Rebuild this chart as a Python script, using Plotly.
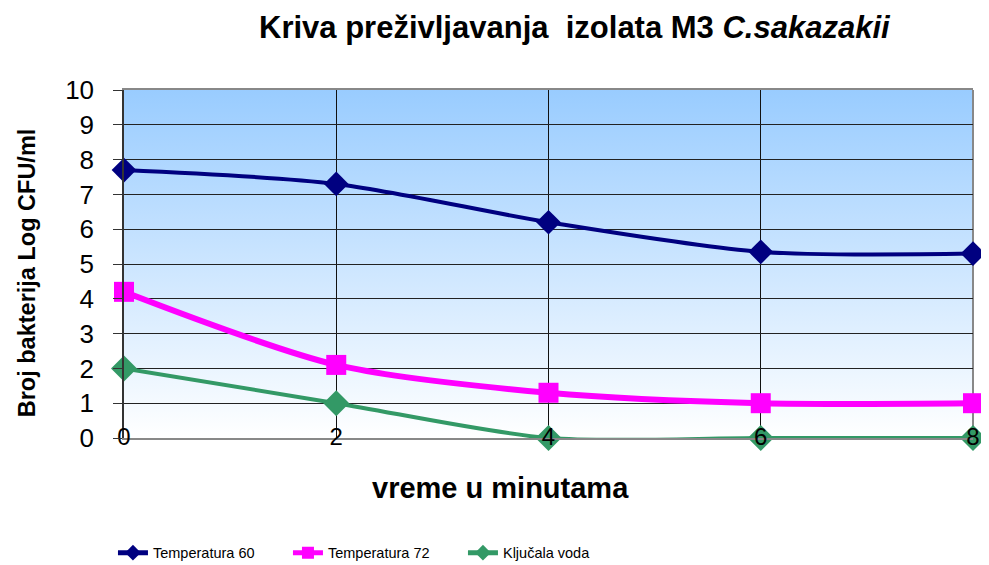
import base64
import plotly.graph_objects as go

# datos
vreme = [0, 2, 4, 6, 8]
temp_60 = [7.7, 7.3, 6.2, 5.35, 5.3]
temp_72 = [4.2, 2.1, 1.3, 1.0, 1.0]
kljucala_voda = [2.0, 1.0, 0.0, 0.0, 0.0]

naslov = "Kriva preživljavanja  izolata M3 <i>C.sakazakii</i>"
naslov_x = "vreme u minutama"
naslov_y = "Broj bakterija Log CFU/ml"

FONT = "Liberation Sans, Arial, sans-serif"

# fondo degradado (azul arriba, blanco abajo) como imagen SVG
svg = (
    '<svg xmlns="http://www.w3.org/2000/svg" width="10" height="100" preserveAspectRatio="none">'
    '<defs><linearGradient id="g" x1="0" y1="0" x2="0" y2="1">'
    '<stop offset="0" stop-color="#99CCFF"/><stop offset="1" stop-color="#FFFFFF"/>'
    '</linearGradient></defs><rect width="10" height="100" fill="url(#g)"/></svg>'
)
fondo = "data:image/svg+xml;base64," + base64.b64encode(svg.encode()).decode()

fig = go.Figure()

series = [
    ("Temperatura 60", temp_60, "#000080", 4, "diamond", 19),
    ("Temperatura 72", temp_72, "#FF00FF", 6, "square", 20),
    ("Ključala voda", kljucala_voda, "#339966", 4, "diamond", 20),
]
for nombre, valores, color, ancho, simbolo, tam in series:
    fig.add_trace(go.Scatter(
        x=vreme, y=valores, name=nombre, mode="lines+markers",
        line=dict(color=color, width=ancho, shape="spline", smoothing=0.8),
        marker=dict(symbol=simbolo, size=tam, color=color),
        cliponaxis=False,
    ))

# la página tiene 8 px de margen en el body: figura algo más pequeña
fig.update_layout(
    width=981, height=557,
    margin=dict(l=116, r=16, t=82, b=127, autoexpand=False),
    paper_bgcolor="white",
    plot_bgcolor="rgba(0,0,0,0)",
    font=dict(family=FONT, color="black"),
    images=[dict(source=fondo, xref="paper", yref="paper", x=0, y=1,
                 sizex=1, sizey=1, sizing="stretch", layer="below")],
    xaxis=dict(
        range=[0, 8], dtick=2, showgrid=True, gridcolor="#111", gridwidth=1,
        zeroline=False, showline=True, linecolor="#888", linewidth=1.5, mirror=True,
        ticks="", tickfont=dict(size=24, family=FONT), ticklabelstandoff=-24,
        automargin=False,
    ),
    yaxis=dict(
        range=[0, 10], dtick=1, showgrid=True, gridcolor="#222", gridwidth=1,
        zeroline=False, showline=True, linecolor="#333", linewidth=1.5,
        ticks="outside", ticklen=9, tickcolor="#333",
        tickfont=dict(size=26, family=FONT), ticklabelstandoff=14,
        automargin=False,
    ),
    legend=dict(
        orientation="h", x=0.107, xref="container", xanchor="left",
        y=0.022, yref="container", yanchor="middle",
        font=dict(size=14.5, family=FONT), entrywidth=130, itemsizing="constant",
        bgcolor="rgba(0,0,0,0)",
    ),
    shapes=[dict(type="line", xref="paper", yref="paper", x0=1, x1=1, y0=0, y1=1,
                 line=dict(color="#888", width=2), layer="below")],
    annotations=[
        dict(text="<b>" + naslov + "</b>", xref="paper", yref="paper",
             x=0.531, y=1.0, yshift=63, xanchor="center", yanchor="middle",
             showarrow=False, font=dict(size=31, family=FONT)),
        dict(text="<b>" + naslov_x + "</b>", xref="paper", yref="paper",
             x=0.443, y=-0.144, xanchor="center", yanchor="middle",
             showarrow=False, font=dict(size=29, family=FONT)),
        dict(text="<b>" + naslov_y + "</b>", xref="paper", yref="paper",
             x=-0.114, y=0.474, xanchor="center", yanchor="middle", textangle=-90,
             showarrow=False, font=dict(size=23.5, family=FONT)),
    ],
)

fig.write_html("out.html")
